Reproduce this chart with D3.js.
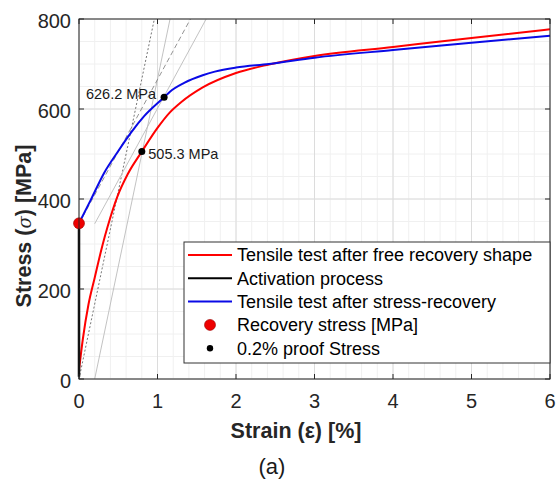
<!DOCTYPE html>
<html>
<head>
<meta charset="utf-8">
<script src="https://cdn.jsdelivr.net/npm/d3@7"></script>
<style>
  body { margin: 0; background: #fff; }
  svg { font-family: "Liberation Sans", Arial, sans-serif; }
</style>
</head>
<body>
<div id="chart"></div>
<script>
// Tensile test after free recovery shape (strain %, stress MPa)
const freeStrain = [0, 0.05, 0.12, 0.2, 0.3, 0.365, 0.49, 0.62, 0.8, 1.0, 1.155, 1.3, 1.576, 2.0, 2.42, 3, 4, 5, 6];
const freeStress = [20, 90, 165, 225, 298, 339, 406, 455, 505.3, 558, 592, 615, 648, 680, 699, 718, 738, 758, 777];

// Tensile test after stress-recovery
const recStrain = [0, 0.15, 0.32, 0.49, 0.66, 0.83, 1.084, 1.155, 1.34, 1.576, 1.73, 2.0, 2.42, 3, 4, 5, 6];
const recStress = [346, 398, 458, 504, 547, 584, 626.2, 638, 658, 675, 683, 692, 700, 714, 731, 747, 763];

// Activation process
const actStrain = [0, 0];
const actStress = [5, 346];

// Recovery stress point
const recoveryPoint = [0, 346];

// 0.2% proof stress points
const proofStrain = [0.8, 1.084];
const proofStress = [505.3, 626.2];
const proofLabels = ["505.3 MPa", "626.2 MPa"];

// construction lines: [strain0, stress0, strain1, stress1]
const elasticFree = [0, 0, 0.96, 800];
const offsetFree = [0.2, 0, 1.16, 800];
const elasticRec = [0, 345, 1.42, 800];
const offsetRec = [0.2, 345, 1.62, 800];

const xTicks = [0, 1, 2, 3, 4, 5, 6];
const yTicks = [0, 200, 400, 600, 800];
const xMinor = d3.range(0, 6.01, 0.2);
const yMinor = d3.range(0, 800.1, 50);

const legendItems = [
  "Tensile test after free recovery shape",
  "Activation process",
  "Tensile test after stress-recovery",
  "Recovery stress [MPa]",
  "0.2% proof Stress"
];

const W = 556, H = 479;
const margin = {top: 19, right: 6, bottom: 100, left: 79};

const svg = d3.select("#chart").append("svg")
    .attr("width", W)
    .attr("height", H);

const x = d3.scaleLinear().domain([0, 6]).range([margin.left, W - margin.right]);
const y = d3.scaleLinear().domain([0, 800]).range([H - margin.bottom, margin.top]);

const g = svg.append("g");

// Grid
g.selectAll(".xminor").data(xMinor).join("line")
    .attr("x1", d => x(d)).attr("x2", d => x(d))
    .attr("y1", y(0)).attr("y2", y(800))
    .attr("stroke", "#f0f0f0").attr("stroke-width", 1);
g.selectAll(".yminor").data(yMinor).join("line")
    .attr("y1", d => y(d)).attr("y2", d => y(d))
    .attr("x1", x(0)).attr("x2", x(6))
    .attr("stroke", "#f0f0f0").attr("stroke-width", 1);
g.selectAll(".xmajor").data(xTicks).join("line")
    .attr("x1", d => x(d)).attr("x2", d => x(d))
    .attr("y1", y(0)).attr("y2", y(800))
    .attr("stroke", "#dcdcdc").attr("stroke-width", 1);
g.selectAll(".ymajor").data(yTicks).join("line")
    .attr("y1", d => y(d)).attr("y2", d => y(d))
    .attr("x1", x(0)).attr("x2", x(6))
    .attr("stroke", "#dcdcdc").attr("stroke-width", 1);

// Construction lines
function refLine(p, color, dash) {
  g.append("line")
      .attr("x1", x(p[0])).attr("y1", y(p[1]))
      .attr("x2", x(p[2])).attr("y2", y(p[3]))
      .attr("stroke", color).attr("stroke-width", 0.9)
      .attr("stroke-dasharray", dash);
}
refLine(elasticFree, "#666", "2,2");
refLine(offsetFree, "#bbb", null);
refLine(elasticRec, "#888", "5,3");
refLine(offsetRec, "#bbb", null);

// Curves
const line = d3.line()
    .x(d => x(d[0]))
    .y(d => y(d[1]))
    .curve(d3.curveMonotoneX);

g.append("path")
    .datum(d3.zip(freeStrain, freeStress))
    .attr("d", line)
    .attr("fill", "none").attr("stroke", "#ff0000").attr("stroke-width", 2);

g.append("path")
    .datum(d3.zip(recStrain, recStress))
    .attr("d", line)
    .attr("fill", "none").attr("stroke", "#0a0ae6").attr("stroke-width", 2);

g.append("path")
    .datum(d3.zip(actStrain, actStress))
    .attr("d", d3.line().x(d => x(d[0])).y(d => y(d[1])))
    .attr("fill", "none").attr("stroke", "#000").attr("stroke-width", 2.5);

// Markers
g.append("circle")
    .attr("cx", x(recoveryPoint[0])).attr("cy", y(recoveryPoint[1]))
    .attr("r", 5.5)
    .attr("fill", "#ee0000").attr("stroke", "#900").attr("stroke-width", 0.6);

g.selectAll(".proof").data(d3.zip(proofStrain, proofStress)).join("circle")
    .attr("cx", d => x(d[0])).attr("cy", d => y(d[1]))
    .attr("r", 3.5).attr("fill", "#000");

g.selectAll(".plabel").data(d3.zip(proofStrain, proofStress, proofLabels)).join("text")
    .attr("x", (d, i) => i == 0 ? x(d[0]) + 6.5 : x(d[0]) - 8)
    .attr("y", (d, i) => y(d[1]) + (i == 0 ? 2 : -3))
    .attr("dy", "0.35em")
    .attr("text-anchor", (d, i) => i == 0 ? "start" : "end")
    .attr("font-size", 14.5)
    .attr("fill", "#1a1a1a")
    .text(d => d[2]);

// Axes box
g.append("rect")
    .attr("x", x(0)).attr("y", y(800))
    .attr("width", x(6) - x(0)).attr("height", y(0) - y(800))
    .attr("fill", "none").attr("stroke", "#262626").attr("stroke-width", 1);

// Ticks inside on all sides
const tl = 5;
g.selectAll(".xt").data(xTicks).join("g").each(function(d) {
  const s = d3.select(this);
  s.append("line").attr("x1", x(d)).attr("x2", x(d)).attr("y1", y(0)).attr("y2", y(0) - tl).attr("stroke", "#262626");
  s.append("line").attr("x1", x(d)).attr("x2", x(d)).attr("y1", y(800)).attr("y2", y(800) + tl).attr("stroke", "#262626");
});
g.selectAll(".yt").data(yTicks).join("g").each(function(d) {
  const s = d3.select(this);
  s.append("line").attr("y1", y(d)).attr("y2", y(d)).attr("x1", x(0)).attr("x2", x(0) + tl).attr("stroke", "#262626");
  s.append("line").attr("y1", y(d)).attr("y2", y(d)).attr("x1", x(6)).attr("x2", x(6) - tl).attr("stroke", "#262626");
});

// Tick labels
g.selectAll(".xl").data(xTicks).join("text")
    .attr("x", d => x(d)).attr("y", y(0) + 29)
    .attr("text-anchor", "middle")
    .attr("font-size", 20).attr("fill", "#262626")
    .text(d => d);
g.selectAll(".yl").data(yTicks).join("text")
    .attr("x", x(0) - 8).attr("y", d => y(d) + 2)
    .attr("dy", "0.35em")
    .attr("text-anchor", "end")
    .attr("font-size", 20).attr("fill", "#262626")
    .text(d => d);

// Axis labels
svg.append("text")
    .attr("x", 296).attr("y", 438)
    .attr("text-anchor", "middle")
    .attr("font-size", 21.5).attr("font-weight", "bold").attr("fill", "#262626")
    .text("Strain (ε) [%]");

const yl = svg.append("text")
    .attr("transform", "translate(31,226) rotate(-90)")
    .attr("text-anchor", "middle")
    .attr("font-size", 21.5).attr("font-weight", "bold").attr("fill", "#262626");
yl.append("tspan").text("Stress (");
yl.append("tspan").attr("font-style", "italic").attr("font-weight", "normal")
    .attr("font-family", "'DejaVu Serif', serif").attr("font-size", 18).text("σ");
yl.append("tspan").text(") [MPa]");

svg.append("text")
    .attr("x", 272).attr("y", 474)
    .attr("text-anchor", "middle")
    .attr("font-size", 22).attr("fill", "#1a1a1a")
    .text("(a)");

// Legend
const lg = svg.append("g");
lg.append("rect")
    .attr("x", 184).attr("y", 242)
    .attr("width", 366).attr("height", 121)
    .attr("fill", "#fff").attr("stroke", "#333").attr("stroke-width", 1);

const legendColors = ["#ff0000", "#000", "#0a0ae6"];
const rowY = i => 255 + i * 23.3;
lg.selectAll(".lt").data(legendItems).join("text")
    .attr("x", 237).attr("y", (d, i) => rowY(i))
    .attr("dy", "0.35em")
    .attr("font-size", 18).attr("fill", "#000")
    .text(d => d);
lg.selectAll(".ll").data(legendColors).join("line")
    .attr("x1", 188).attr("x2", 232)
    .attr("y1", (d, i) => rowY(i)).attr("y2", (d, i) => rowY(i))
    .attr("stroke", d => d).attr("stroke-width", 2);
lg.append("circle").attr("cx", 210).attr("cy", rowY(3)).attr("r", 5.5)
    .attr("fill", "#ee0000").attr("stroke", "#900").attr("stroke-width", 0.6);
lg.append("circle").attr("cx", 210).attr("cy", rowY(4)).attr("r", 3.2)
    .attr("fill", "#000");
</script>
</body>
</html>
